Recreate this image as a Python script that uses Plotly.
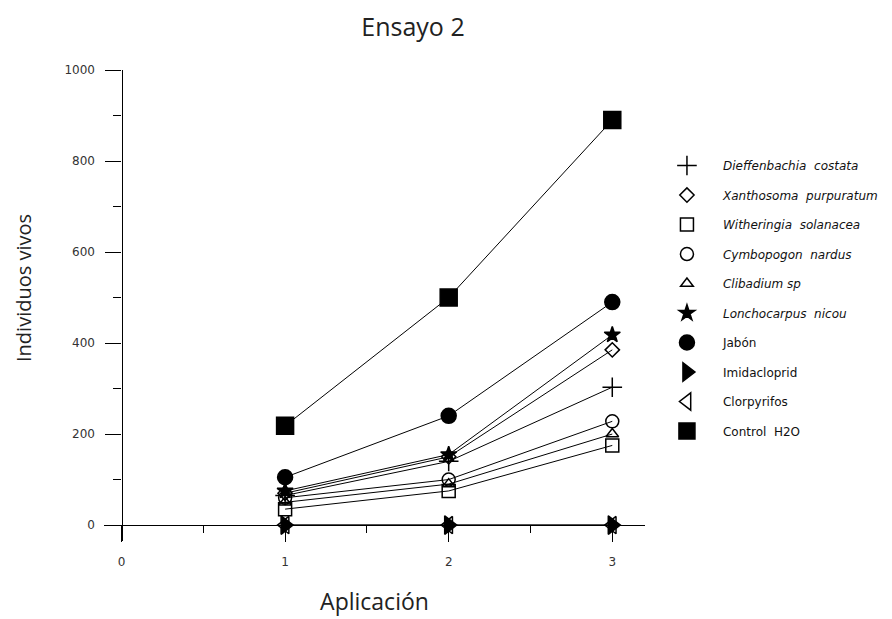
import plotly.graph_objects as go

aplicacion = [1, 2, 3]

series_names = [
    "<i>Dieffenbachia  costata</i>",
    "<i>Xanthosoma  purpuratum</i>",
    "<i>Witheringia  solanacea</i>",
    "<i>Cymbopogon  nardus</i>",
    "<i>Clibadium sp</i>",
    "<i>Lonchocarpus  nicou</i>",
    "Jabón",
    "Imidacloprid",
    "Clorpyrifos",
    "Control  H2O",
]

dieffenbachia = [65, 140, 303]
xanthosoma = [70, 150, 385]
witheringia = [35, 75, 175]
cymbopogon = [60, 100, 228]
clibadium = [50, 90, 200]
lonchocarpus = [75, 155, 418]
jabon = [105, 240, 490]
imidacloprid = [0, 0, 0]
clorpyrifos = [0, 0, 0]
control_h2o = [218, 500, 890]

series_values = [dieffenbachia, xanthosoma, witheringia, cymbopogon, clibadium,
                 lonchocarpus, jabon, imidacloprid, clorpyrifos, control_h2o]

symbols = ["cross-thin-open", "diamond-open", "square-open", "circle-open",
           "triangle-up-open", "star", "circle", "triangle-right",
           "triangle-left-open", "square"]
sizes = [14, 11, 13, 13, 11, 12, 15, 16, 15, 17]

y_ticks = [0, 200, 400, 600, 800, 1000]
x_ticks = [0, 1, 2, 3]

fig = go.Figure()

# connecting lines (no legend)
for name, vals in zip(series_names, series_values):
    fig.add_trace(go.Scatter(x=aplicacion, y=vals, mode="lines",
                             line=dict(color="black", width=1),
                             showlegend=False, hoverinfo="skip"))

# markers (with legend)
for i, (name, vals) in enumerate(zip(series_names, series_values)):
    fig.add_trace(go.Scatter(
        x=aplicacion, y=vals, mode="markers", name=name,
        legendgroup=f"g{i}", cliponaxis=False,
        marker=dict(symbol=symbols[i], size=sizes[i], color="black",
                    line=dict(color="black", width=1.5)),
    ))

fig.update_layout(
    width=892, height=619,
    paper_bgcolor="white", plot_bgcolor="white",
    margin=dict(l=96, r=255, t=62, b=86, autoexpand=False),
    title=dict(text="Ensayo 2", x=405/892, xanchor="center", xref="container",
               y=1-19/619, yanchor="middle", yref="container",
               font=dict(family="Open Sans", size=25, color="#222")),
    font=dict(family="DejaVu Sans", color="#222"),
    legend=dict(x=1.011, y=0.828, xanchor="left", yanchor="top",
                traceorder="grouped", tracegroupgap=10.5, itemwidth=62,
                font=dict(family="DejaVu Sans", size=12, color="#111"),
                bgcolor="rgba(0,0,0,0)"),
    showlegend=True,
    annotations=[dict(text="Individuos vivos", textangle=-90,
                      xref="paper", yref="paper",
                      x=(23-104)/541, y=(541-288)/471,
                      xanchor="center", yanchor="middle", showarrow=False,
                      font=dict(family="Open Sans", size=20, color="#222"))],
)

fig.update_xaxes(
    range=[-0.107, 3.2], tickvals=x_ticks, ticktext=[str(v) for v in x_ticks],
    showline=True, linecolor="black", linewidth=1.3, showgrid=False, zeroline=False,
    ticks="outside", ticklen=16, tickwidth=1.3, tickcolor="black",
    minor=dict(dtick=0.5, tick0=0, ticks="outside", ticklen=7, tickwidth=1.3, tickcolor="black"),
    tickfont=dict(family="DejaVu Sans", size=12, color="#333"),
    ticklabelstandoff=9,
    anchor="free", position=35/1035, automargin=False,
    title=dict(text="Aplicación", font=dict(family="Open Sans", size=23, color="#222"), standoff=26),
)
fig.update_yaxes(
    range=[-35, 1000], tickvals=y_ticks, ticktext=[str(v) for v in y_ticks],
    showline=True, linecolor="black", linewidth=1.3, showgrid=False, zeroline=False,
    ticks="outside", ticklen=16, tickwidth=1.3, tickcolor="black",
    minor=dict(dtick=100, tick0=0, ticks="outside", ticklen=8, tickwidth=1.3, tickcolor="black"),
    tickfont=dict(family="DejaVu Sans", size=12, color="#333"),
    ticklabelstandoff=8,
    anchor="free", position=0.107/3.307, automargin=False,
)

fig.write_html("out.html")
